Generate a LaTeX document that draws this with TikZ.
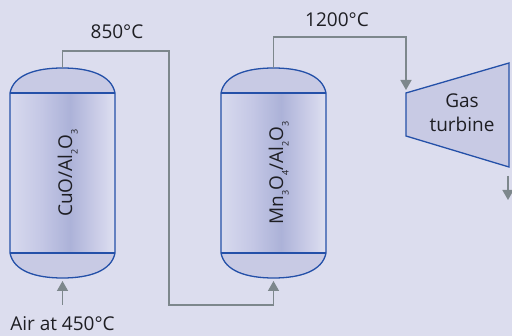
\documentclass[tikz,border=0pt]{standalone}
\usepackage{fontspec}
\setmainfont{Open Sans}
\usetikzlibrary{arrows.meta}
\definecolor{bg}{RGB}{220,221,238}
\definecolor{domefill}{RGB}{200,202,228}
\definecolor{vline}{RGB}{36,80,168}
\definecolor{pipec}{RGB}{125,135,140}
\definecolor{txt}{RGB}{30,30,35}
\definecolor{vA}{RGB}{216,218,238}
\definecolor{vB}{RGB}{196,199,229}
\definecolor{vC}{RGB}{172,178,216}
\definecolor{vD}{RGB}{202,204,231}
\definecolor{vE}{RGB}{222,224,241}
\pgfdeclarehorizontalshading{vesselshade}{100bp}{color(0bp)=(vA); color(25bp)=(vA); color(40bp)=(vB); color(53.5bp)=(vC); color(66bp)=(vD); color(75bp)=(vE); color(100bp)=(vE)}
\newcommand{\sbs}[1]{\raisebox{-5.5pt}{\fontsize{9}{9}\selectfont #1}}
\tikzset{
  pipe/.style={draw=pipec, line width=1.5pt},
  pipearrow/.style={pipe, -{Triangle[length=10pt,width=11pt]}},
  vesselline/.style={draw=vline, line width=1.3pt},
  lbl/.style={text=txt, font=\fontsize{19}{24}\selectfont, inner sep=0pt},
}
\begin{document}
\begin{tikzpicture}[x=1pt,y=-1pt]
\useasboundingbox (0,0) rectangle (512,336);
\fill[bg] (0,0) rectangle (512,336);
% vessels
\foreach \cx/\nm in {62.5/1,273.5/2}{
  \begin{scope}[shift={(\cx,0)}]
    \shade[shading=vesselshade] (-52.5,93) rectangle (52.5,253);
    \fill[domefill] (-52.5,93) .. controls (-49,75) and (-27,68) .. (0,68) .. controls (27,68) and (49,75) .. (52.5,93) -- cycle;
    \fill[domefill] (-52.5,253) .. controls (-49,271) and (-27,278) .. (0,278) .. controls (27,278) and (49,271) .. (52.5,253) -- cycle;
    \draw[vesselline] (-52.5,93) .. controls (-49,75) and (-27,68) .. (0,68) .. controls (27,68) and (49,75) .. (52.5,93) -- (52.5,253) .. controls (49,271) and (27,278) .. (0,278) .. controls (-27,278) and (-49,271) .. (-52.5,253) -- cycle;
    \draw[vesselline] (-52.5,93) -- (52.5,93);
    \draw[vesselline] (-52.5,253) -- (52.5,253);
  \end{scope}
}
\node[lbl, rotate=90, anchor=base] (cat1) at (72,173) {CuO/Al\sbs{2}O\sbs{3}};
\node[lbl, rotate=90, anchor=base] (cat2) at (283,173) {Mn\sbs{3}O\sbs{4}/Al\sbs{2}O\sbs{3}};
% turbine
\draw[vesselline, fill=domefill] (406,93) -- (509,63) -- (509,167) -- (406,136) -- cycle;
\node[lbl, align=center] (turb) at (462,113) {Gas\\turbine};
% connection points
\coordinate (v1top) at (62.5,68);
\coordinate (v1in) at (62.5,281);
\coordinate (airsrc) at (62.5,305);
\coordinate (v2top) at (273.5,68);
\coordinate (v2in) at (273.5,281);
\coordinate (p1a) at (169,51);
\coordinate (p1b) at (169,305);
\coordinate (p2a) at (406,37);
\coordinate (turbin) at (406,90);
\coordinate (turbout) at (508,176);
\coordinate (exhaust) at (508,200);
% pipes
\draw[pipearrow] (v1top) |- (p1a) -- (p1b) -| (v2in);
\draw[pipearrow] (v2top) |- (p2a) -- (turbin);
\draw[pipearrow] (airsrc) -- (v1in);
\draw[pipearrow] (turbout) -- (exhaust);
% labels
\node[lbl, anchor=base] (t850) at (117,39) {850°C};
\node[lbl, anchor=base] (t1200) at (337,27) {1200°C};
\node[lbl, anchor=base] (tair) at (62.5,331) {Air at 450°C};
\end{tikzpicture}
\end{document}
